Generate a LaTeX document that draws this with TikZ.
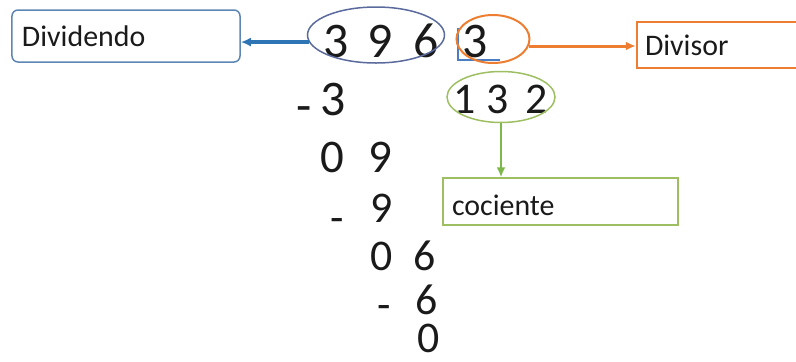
\documentclass[tikz,border=0pt]{standalone}
\usepackage{fontspec}
\setmainfont{Carlito}
\usetikzlibrary{arrows.meta,shapes.geometric}
\definecolor{ink}{HTML}{1A1A1A}
\definecolor{dividendline}{HTML}{5E86B4}
\definecolor{dividendarrow}{HTML}{2E75B6}
\definecolor{dividendcol}{HTML}{5A6A9C}
\definecolor{divisorcol}{HTML}{ED7D31}
\definecolor{quotientcol}{HTML}{9DBF62}
\definecolor{quotientarrow}{HTML}{7DB84A}
\definecolor{bracketcol}{HTML}{4A7EC4}

\begin{document}
\begin{tikzpicture}[
  x=1bp, y=-1bp, text=ink,
  tagbox/.style={draw,line width=1.5bp,font=\fontsize{30}{36}\selectfont,
    align=left,inner ysep=0pt,text height=20bp,text depth=0pt},
  ring/.style={ellipse,draw,line width=1.5bp,inner sep=0pt},
  flow/.style={-{Latex[length=10bp,width=9bp]},line width=3bp},
  digbig/.style={anchor=base,inner sep=0pt,font=\fontsize{50}{50}\selectfont},
  digmid/.style={anchor=base,inner sep=0pt,font=\fontsize{47}{47}\selectfont},
  digsmall/.style={anchor=base,inner sep=0pt,font=\fontsize{44}{44}\selectfont}
]
\useasboundingbox (0,0) rectangle (796,361);
% Dividend, divisor and quotient.
\node[digbig] (dig3) at (336,57) {3};
\node[digbig] (dig9) at (380,57) {9};
\node[digbig] (dig6) at (426,57) {6};
\node[digbig] (divisor) at (475,57) {3};
\draw[draw=bracketcol,line width=2bp] (458,28) -- (458,60) -- (500,60);
\node[digsmall] (quo1) at (465,113) {1};
\node[digsmall] (quo3) at (498,113) {3};
\node[digsmall] (quo2) at (537,113) {2};
% Subtraction steps.
\node[digbig] (minusA) at (304,122) {-};
\node[digbig] (subA) at (333,115) {3};
\node[digmid] (restA0) at (332.5,172) {0};
\node[digmid] (restA9) at (380,172) {9};
\node[digsmall] (minusB) at (337,232) {-};
\node[digsmall] (subB) at (382,222) {9};
\node[digsmall] (restB0) at (382,270) {0};
\node[digsmall] (restB6) at (425,270) {6};
\node[digsmall] (minusC) at (384,319) {-};
\node[digsmall] (subC) at (427,314) {6};
\node[digsmall] (restC) at (429,352) {0};
% Rings round the three numbers.
\node[ring,draw=dividendcol,minimum width=137bp,minimum height=56bp] (dividendring) at (376,35) {};
\node[ring,draw=divisorcol,line width=2bp,minimum width=73bp,minimum height=48bp] (divisorring) at (493,39) {};
\node[ring,draw=quotientcol,minimum width=108bp,minimum height=51bp] (quotientring) at (501,97) {};
% Name tags.
\node[tagbox,draw=dividendline,rounded corners=6bp,minimum width=228bp,minimum height=52bp,
  text width=208bp,inner xsep=10bp] (dividendo) at (126,36) {Dividendo};
\node[tagbox,draw=divisorcol,line width=2.5bp,minimum height=46bp,
  text width=147bp,inner xsep=8bp] (divisorbox) at (718.5,45) {Divisor};
\node[tagbox,draw=quotientcol,minimum height=47bp,text width=217bp,inner xsep=9bp,
  text height=27bp] (cociente) at (560.5,201.5) {cociente};
\draw[flow,draw=dividendarrow,line width=3.5bp] (dividendring.186) -- (dividendring.186 -| dividendo.east);
\draw[flow,draw=divisorcol] (divisorring.-11) -- (divisorring.-11 -| divisorbox.west);
\draw[flow,draw=quotientarrow,line width=2.5bp] (quotientring.south) -- (quotientring.south |- cociente.north);
\end{tikzpicture}
\end{document}
